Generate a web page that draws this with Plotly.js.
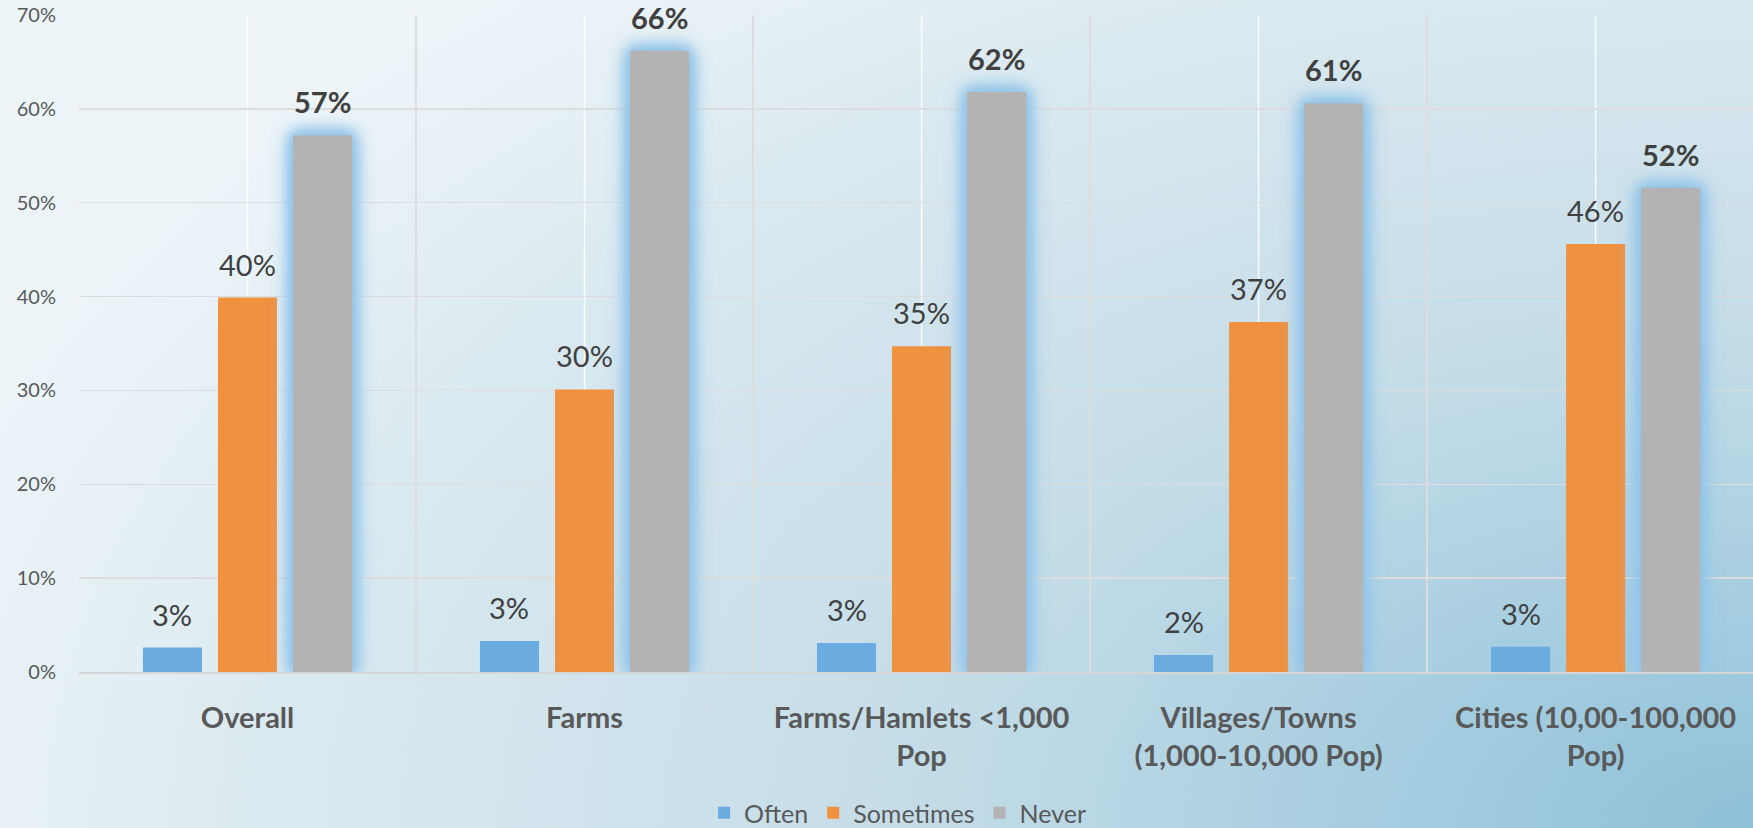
<!DOCTYPE html>
<html>
<head>
<meta charset="utf-8">
<script src="https://cdn.plot.ly/plotly-3.0.1.min.js"></script>
<style>
  html, body { margin: 0; padding: 0; overflow: hidden; }
  #chart {
    width: 1753px; height: 860px;
    background: radial-gradient(ellipse 1900px 1100px at 100% 96%,
      #8fc0d8 0%, #a6cde0 20%, #c5dde8 45%, #d8e8ef 75%, #e7f1f5 92%, #ecf4f8 100%);
  }
</style>
</head>
<body>
<div id="chart"></div>
<script>
// ---- data ----
const categories = [
  "Overall",
  "Farms",
  "Farms/Hamlets &lt;1,000<br>Pop",
  "Villages/Towns<br>(1,000-10,000 Pop)",
  "Cities (10,00-100,000<br>Pop)"
];
const seriesNames = ["Often", "Sometimes", "Never"];
const often     = [2.6, 3.3, 3.1, 1.8, 2.7];
const sometimes = [39.9, 30.1, 34.7, 37.3, 45.6];
const never     = [57.2, 66.2, 61.8, 60.6, 51.6];
const yTicks = [0, 10, 20, 30, 40, 50, 60, 70];

// ---- style ----
const colors = ["#6aacdf", "#f09140", "#b3b3b3"];
const FONT = "Lato, 'Open Sans', sans-serif";
const W = 1753, H = 860;   // page window is 828 high; the extra is cut off
const margin = {l: 79, r: 0, t: 15, b: H - 672};
const xRange = [-0.5, 4.467];
const bargap = 0.332, bargroupgap = 0.213;

const seriesValues = [often, sometimes, never];
const traces = seriesValues.map((vals, i) => ({
  type: "bar",
  name: seriesNames[i],
  x: categories,
  y: vals,
  marker: {color: colors[i]},
  hoverinfo: "skip"
}));

// label positions through library scales: offset each series by one bar slot
const plotW = W - margin.l - margin.r;
const catPx = plotW / (xRange[1] - xRange[0]);
const slot = catPx * (1 - bargap) / 3;
const annotations = [];
seriesValues.forEach((vals, i) => {
  vals.forEach((v, j) => {
    annotations.push({
      x: categories[j], y: v, xref: "x", yref: "y",
      xshift: (i - 1) * slot, yshift: 14,
      yanchor: "bottom", showarrow: false,
      text: Math.round(v) + "%",
      font: {family: FONT, size: 29, color: "#404040", weight: i === 2 ? "bold" : "normal"}
    });
  });
});

// white center lines per category
const shapes = categories.map(c => ({
  type: "line", xref: "x", yref: "paper", x0: c, x1: c, y0: 0, y1: 1,
  line: {color: "rgba(255,255,255,0.9)", width: 1.5}, layer: "below"
}));

const plotH = 672 - margin.t;
const layout = {
  width: W, height: H,
  margin: margin,
  paper_bgcolor: "rgba(0,0,0,0)",
  plot_bgcolor: "rgba(0,0,0,0)",
  barmode: "group",
  bargap: bargap,
  bargroupgap: bargroupgap,
  showlegend: true,
  legend: {
    orientation: "h", x: 0.489, xanchor: "center",
    y: (672 - 813) / plotH, yanchor: "middle",
    font: {family: FONT, size: 25, color: "#595959"},
    bgcolor: "rgba(0,0,0,0)", itemclick: false, itemdoubleclick: false
  },
  xaxis: {
    type: "category",
    range: xRange,
    tickson: "boundaries",
    showgrid: true, gridcolor: "#dedcdc", gridwidth: 1.5,
    showline: true, linecolor: "#d6d6d6", linewidth: 1.5,
    ticks: "", ticklabelstandoff: 20,
    tickfont: {family: FONT, size: 29, color: "#595959", weight: "bold"},
    fixedrange: true
  },
  yaxis: {
    range: [0, 70],
    tickvals: yTicks,
    ticktext: yTicks.map(t => t + "%"),
    showgrid: true, gridcolor: "#dedcdc", gridwidth: 1.5,
    zeroline: false, showline: false,
    ticks: "", ticklabelstandoff: 22,
    tickfont: {family: FONT, size: 20, color: "#595959"},
    fixedrange: true
  },
  annotations: annotations,
  shapes: shapes,
  font: {family: FONT}
};

Plotly.newPlot("chart", traces, layout, {displayModeBar: false, staticPlot: true}).then(gd => {
  const tr = gd.querySelectorAll(".barlayer .trace");
  if (tr[2]) {
    tr[2].querySelectorAll(".point path").forEach(p => {
      p.style.filter = "drop-shadow(0 0 8px rgba(140,192,230,1)) drop-shadow(0 0 7px rgba(150,198,234,0.9)) drop-shadow(0 0 4px rgba(160,204,236,0.9))";
    });
  }
});
</script>
</body>
</html>
